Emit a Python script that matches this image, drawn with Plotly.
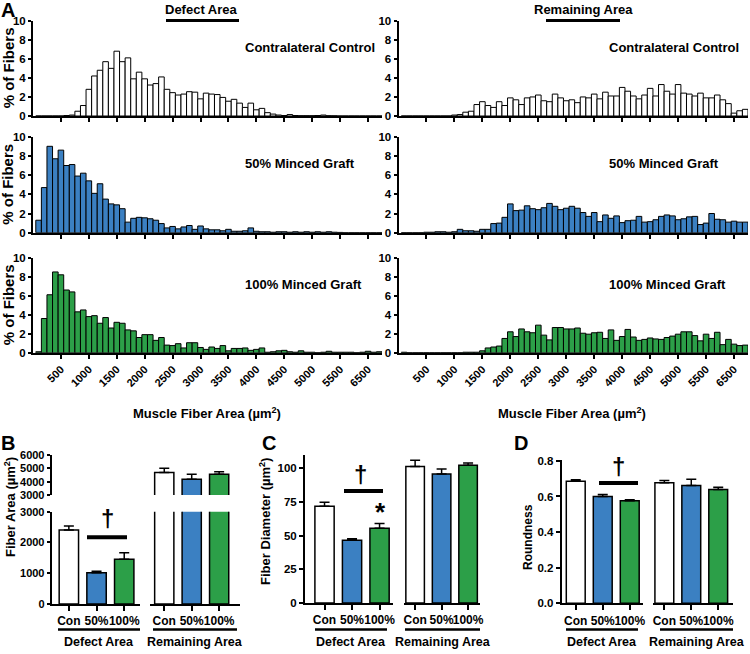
import plotly.graph_objects as go

W, H = 750, 654

FONT = "Liberation Sans, Arial, Helvetica, sans-serif"

WHITE = "#ffffff"
BLUE = "#3b80c2"
GREEN = "#2c9f48"

# ----------------------------------------
# Histogram data: % of fibers per 100 um2 bin
# ----------------------------------------

bin_centers = list(range(100, 6300, 100))

hist_ticks = [500, 1000, 1500, 2000, 2500, 3000, 3500, 4000, 4500, 5000, 5500, 6000]
hist_tick_labels = ["500", "1000", "1500", "2000", "2500", "3000", "3500",
                    "4000", "4500", "5000", "5500", "6500"]

control_defect = [
    0, 0, 0, 0, 0, 0.05, 0.1, 0.5, 1.1, 2.8,
    4.2, 4.8, 5.7, 5.0, 6.8, 5.7, 6.1, 3.9, 4.6, 3.9,
    3.25, 3.4, 4.1, 2.8, 2.45, 2.2, 2.3, 2.55, 2.5, 1.8,
    2.4, 2.3, 2.25, 1.95, 1.55, 1.75, 1.35, 0.9, 1.35, 0.65,
    0.8, 0.35, 0.2, 0.1, 0.05, 0.15, 0.05, 0.03, 0.03, 0.03,
    0.05, 0.1, 0.03, 0.02, 0, 0, 0, 0, 0, 0,
    0, 0,
]

control_remaining = [
    0, 0, 0, 0, 0, 0, 0, 0, 0, 0.1,
    0.15, 0.4, 0.5, 1.2, 1.5, 1.1, 0.9, 1.5, 1.1, 1.9,
    1.7, 1.2, 1.9, 2.0, 2.2, 1.6, 1.5, 2.3, 1.9, 1.6,
    1.7, 1.4, 2.0, 1.9, 2.3, 1.8, 2.5, 2.1, 2.1, 3.0,
    2.6, 2.1, 1.8, 2.2, 2.9, 2.1, 3.3, 2.6, 2.3, 3.3,
    2.4, 2.3, 2.1, 2.4, 1.9, 1.9, 2.2, 1.7, 1.3, 0.3,
    0.55, 0.7,
]

minced50_defect = [
    1.3, 4.7, 9.0, 7.7, 8.6, 7.0, 7.1, 5.9, 6.2, 5.4,
    4.1, 5.1, 3.5, 3.0, 2.9, 2.5, 1.1, 1.5, 1.6, 1.55,
    1.45, 1.3, 0.95, 0.5, 0.65, 0.4, 0.6, 0.75, 0.35, 0.7,
    0.4, 0.3, 0.3, 0.2, 0.35, 0.15, 0.15, 0.2, 0.5, 0.15,
    0.1, 0.1, 0.05, 0.1, 0.1, 0.05, 0.1, 0.05, 0.1, 0.05,
    0.1, 0.05, 0.1, 0.05, 0.03, 0, 0, 0, 0, 0,
    0, 0,
]

minced50_remaining = [
    0, 0, 0, 0, 0.05, 0.05, 0.1, 0.1, 0.05, 0.1,
    0.35, 0.2, 0.2, 0.15, 0.35, 0.35, 0.95, 1.0, 1.6, 3.0,
    2.3, 2.35, 2.8, 2.5, 2.4, 2.6, 3.05, 2.75, 2.4, 2.55,
    2.75, 2.55, 2.1, 1.7, 2.1, 1.15, 1.85, 1.5, 1.75, 1.05,
    1.25, 1.3, 1.7, 1.1, 1.15, 1.35, 1.7, 1.85, 1.75, 1.35,
    1.45, 1.65, 1.7, 0.85, 1.0, 2.0, 1.4, 1.35, 1.1, 1.2,
    1.1, 1.1,
]

minced100_defect = [
    0.1, 3.6, 6.1, 8.5, 8.2, 6.6, 6.4, 4.3, 4.5, 3.8,
    3.9, 3.1, 3.7, 2.6, 3.2, 3.1, 2.4, 2.3, 1.6, 1.9,
    1.9, 1.3, 1.6, 0.8, 0.75, 0.95, 0.5, 1.05, 1.05, 0.55,
    0.35, 0.6, 0.45, 0.75, 0.2, 0.45, 0.45, 0.5, 0.25, 0.35,
    0.5, 0.05, 0.1, 0.2, 0.25, 0.1, 0.05, 0.2, 0.05, 0.05,
    0, 0.05, 0.15, 0.05, 0.05, 0.05, 0.05, 0, 0.05, 0.15,
    0.05, 0.1,
]

minced100_remaining = [
    0.05, 0, 0, 0, 0, 0, 0, 0, 0, 0,
    0, 0.05, 0.05, 0.05, 0.2, 0.5, 0.6, 0.7, 1.5, 2.2,
    1.7, 2.5, 2.2, 2.1, 2.9, 1.85, 1.35, 2.65, 2.65, 2.5,
    2.5, 2.6, 2.05, 1.95, 2.1, 2.15, 1.5, 2.4, 1.3, 1.7,
    2.45, 1.65, 1.3, 1.4, 1.55, 1.45, 1.4, 1.6, 1.75, 1.95,
    2.2, 2.2, 1.8, 1.25, 1.95, 1.5, 2.15, 0.85, 1.4, 0.9,
    0.75, 0.8,
]

# ----------------------------------------
# Bar chart data (mean, SEM)
# ----------------------------------------

groups = ["Con", "50%", "100%"]
group_colors = [WHITE, BLUE, GREEN]

area_defect = [2405, 1018, 1452]
area_defect_err = [130, 45, 215]
area_remaining = [4680, 4175, 4550]
area_remaining_err = [320, 375, 200]

diameter_defect = [71.6, 46.4, 55.3]
diameter_defect_err = [3.0, 1.2, 3.5]
diameter_remaining = [101.2, 95.6, 102.0]
diameter_remaining_err = [4.5, 3.7, 1.7]

roundness_defect = [0.686, 0.600, 0.576]
roundness_defect_err = [0.008, 0.011, 0.005]
roundness_remaining = [0.677, 0.662, 0.639]
roundness_remaining_err = [0.013, 0.035, 0.013]


def fx(px):
    return px / W


def fy(py):
    return 1 - py / H


def bold(size):
    return dict(family=FONT, size=size, color="black", weight="bold")


fig = go.Figure()
layout = {}
annotations = []
shapes = []


def axis(x0, x1, rng, anchor, **kw):
    d = dict(
        domain=[x0, x1], range=rng, anchor=anchor, automargin=False,
        showline=True, linecolor="black", linewidth=2,
        ticks="outside", ticklen=5, tickwidth=2, tickcolor="black",
        showgrid=False, zeroline=False, fixedrange=True,
    )
    d.update(kw)
    return d


def text(x, y, s, font, **kw):
    a = dict(x=fx(x), y=fy(y), xref="paper", yref="paper", text=s,
             showarrow=False, font=font, xanchor="center", yanchor="middle")
    a.update(kw)
    annotations.append(a)


def hline(x0, x1, y, width=3):
    shapes.append(dict(type="line", xref="paper", yref="paper",
                       x0=fx(x0), x1=fx(x1), y0=fy(y), y1=fy(y),
                       line=dict(color="black", width=width)))


# ----------------------------------------
# Panel A: histograms
# ----------------------------------------

hist_rows = [(20.7, 116), (136.7, 232.7), (257.7, 352.7)]
hist_cols = [(33, 382), (398.5, 748)]
hist_series = [
    (control_defect, control_remaining, WHITE, "Contralateral Control"),
    (minced50_defect, minced50_remaining, BLUE, "50% Minced Graft"),
    (minced100_defect, minced100_remaining, GREEN, "100% Minced Graft"),
]

n = 0
for r, (defect, remaining, color, label) in enumerate(hist_series):
    top, bottom = hist_rows[r]
    for c, values in enumerate([defect, remaining]):
        n += 1
        left, right = hist_cols[c]
        xs = "" if n == 1 else str(n)
        fig.add_trace(go.Bar(
            x=bin_centers, y=values, width=100,
            marker=dict(color=color, line=dict(color="black", width=1)),
            xaxis="x" + xs, yaxis="y" + xs, showlegend=False,
        ))
        layout["xaxis" + xs] = axis(
            fx(left), fx(right), [0, 6250], "y" + xs,
            tickvals=hist_ticks, ticktext=hist_tick_labels,
            showticklabels=(r == 2), tickangle=-45,
            tickfont=bold(11), ticklen=4,
        )
        layout["yaxis" + xs] = axis(
            fy(bottom), fy(top), [0, 10], "x" + xs,
            tickvals=[0, 2, 4, 6, 8, 10], tickfont=bold(11.5), ticklen=3,
        )
        text(243 if c == 0 else 607, (top + bottom) / 2 - 21, label,
             bold(13), xanchor="left")
    text(8, (top + bottom) / 2, "% of Fibers", bold(15), textangle=-90)

text(8, 10, "A", bold(20))
text(202, 9, "Defect Area", bold(13))
text(583, 9, "Remaining Area", bold(13))
hline(166, 239, 20.5)
hline(546, 620, 20.5)
text(207, 413, "Muscle Fiber Area (µm<sup>2</sup>)", bold(13))
text(572, 413, "Muscle Fiber Area (µm<sup>2</sup>)", bold(13))


# ----------------------------------------
# Panels B-D: group bar charts
# ----------------------------------------

def group_bars(xa, ya, values, errs):
    fig.add_trace(go.Bar(
        x=[0, 1, 2], y=values, width=0.7,
        marker=dict(color=group_colors, line=dict(color="black", width=1.5)),
        error_y=None if errs is None else dict(
            type="data", array=errs, arrayminus=[0, 0, 0], symmetric=False,
            color="black", thickness=1.5, width=5),
        xaxis=xa, yaxis=ya, showlegend=False,
    ))


def group_axis(x0, x1, rng, anchor):
    return axis(fx(x0), fx(x1), rng, anchor, tickvals=[0, 1, 2],
                ticktext=groups, tickfont=bold(12), tickangle=0)


# B: fiber area, broken y axis
group_bars("x7", "y7", area_defect, area_defect_err)
group_bars("x8", "y7", area_remaining, None)
group_bars("x8", "y8", area_remaining, area_remaining_err)
layout["xaxis7"] = group_axis(51.7, 140, [-0.62, 2.57], "y7")
layout["xaxis8"] = group_axis(150, 240, [-0.52, 2.76], "y7")
layout["yaxis7"] = axis(fy(604), fy(511.7), [0, 3000], "x7", ticklen=3,
                        tickvals=[0, 1000, 2000, 3000], tickfont=bold(11))
layout["yaxis8"] = axis(fy(495), fy(455), [3000, 6000], "x7", ticklen=3,
                        tickvals=[3000, 4000, 5000, 6000], tickfont=bold(11))

# C: fiber diameter
group_bars("x9", "y9", diameter_defect, diameter_defect_err)
group_bars("x10", "y9", diameter_remaining, diameter_remaining_err)
layout["xaxis9"] = group_axis(305, 393.3, [-0.71, 2.5], "y9")
layout["xaxis10"] = group_axis(404, 480, [-0.42, 2.45], "y9")
layout["yaxis9"] = axis(fy(603), fy(454.5), [0, 110], "x9", ticklen=4,
                        tickvals=[0, 25, 50, 75, 100], tickfont=bold(11.5))

# D: roundness
group_bars("x11", "y10", roundness_defect, roundness_defect_err)
group_bars("x12", "y10", roundness_remaining, roundness_remaining_err)
layout["xaxis11"] = group_axis(561.7, 642.7, [-0.52, 2.48], "y10")
layout["xaxis12"] = group_axis(653.3, 733.3, [-0.41, 2.56], "y10")
layout["yaxis10"] = axis(fy(603.3), fy(460), [0, 0.805], "x11", ticklen=4,
                         tickvals=[0, 0.2, 0.4, 0.6, 0.8], tickformat=".1f",
                         tickfont=bold(11.5))

# panel letters and axis titles
text(7.5, 443, "B", bold(20))
text(269, 443, "C", bold(20))
text(521, 443, "D", bold(20))
text(10, 507, "Fiber Area (µm<sup>2</sup>)", bold(13), textangle=-90)
text(265, 522, "Fiber Diameter (µm<sup>2</sup>)", bold(13), textangle=-90)
text(528, 537, "Roundness", bold(12), textangle=-90)

# group underlines and labels
for x0, x1, label in [(58, 140, "Defect Area"), (153, 237, "Remaining Area"),
                      (315, 387, "Defect Area"), (405, 480, "Remaining Area"),
                      (566, 638, "Defect Area"), (660, 733, "Remaining Area")]:
    hline(x0, x1, 629.5, width=2.5)
    text((x0 + x1) / 2, 642, label, bold(12.5))

# significance markers
hline(87, 127, 537.3, width=4)
text(107, 518, "†", bold(24))
hline(344, 383, 491, width=4)
text(360, 474, "†", bold(24))
text(380, 512, "*", bold(26))
hline(599, 638, 483, width=4)
text(618, 466, "†", bold(24))

layout.update(
    template="none",
    width=W, height=H,
    margin=dict(l=0, r=0, t=0, b=0),
    paper_bgcolor="white", plot_bgcolor="white",
    barmode="overlay", showlegend=False,
    annotations=annotations, shapes=shapes,
)
fig.update_layout(**layout)

# page body has a default 8px margin; drop it so the figure sits at 0,0
fig.write_html("out.html", config={"displayModeBar": False},
               post_script="document.body.style.margin='0';")
